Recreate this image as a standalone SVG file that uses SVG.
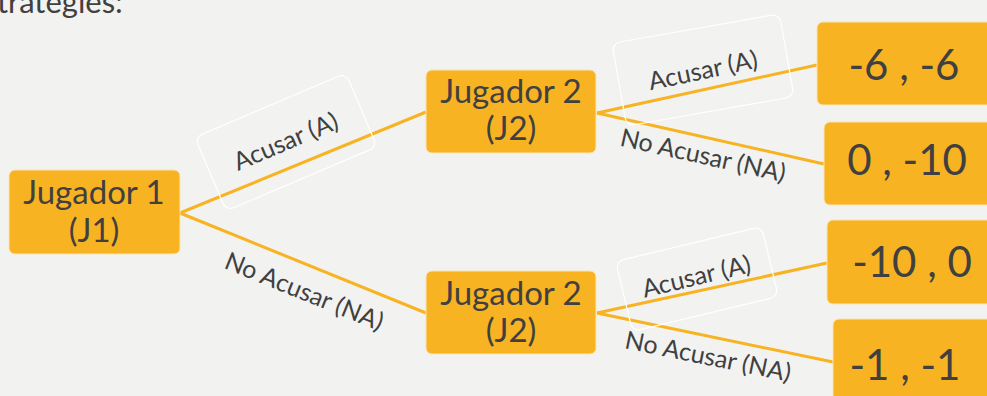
<svg xmlns="http://www.w3.org/2000/svg" width="987" height="396" viewBox="0 0 987 396">
<style>
.bg{fill:#f2f2f0}
.node rect{fill:#f7b322;stroke:#fbe3b0;stroke-width:1}
.nt{font-family:Lato,"Open Sans","Liberation Sans",sans-serif;fill:#404040;text-anchor:middle}
.jt{font-size:33px}
.pt{font-size:42px}
.lt{font-family:Lato,"Open Sans","Liberation Sans",sans-serif;fill:#404040;text-anchor:middle;font-size:25px}
.edge{stroke:#f7b322;stroke-width:3;fill:none}
.lbox{fill:none;stroke:#ffffff;stroke-width:1.2}
</style>
<rect class="bg" x="0" y="0" width="987" height="396"/>
<text x="-3" y="13" font-family="Lato,'Open Sans','Liberation Sans',sans-serif" font-size="31" fill="#404040">trategies:</text>
<g id="connectors">
<line class="edge" x1="180" y1="213" x2="426" y2="112"/>
<line class="edge" x1="180" y1="213" x2="426" y2="313"/>
<line class="edge" x1="597" y1="113" x2="817" y2="65"/>
<line class="edge" x1="597" y1="113" x2="824" y2="164"/>
<line class="edge" x1="597" y1="313" x2="827" y2="263"/>
<line class="edge" x1="597" y1="313" x2="833" y2="362"/>
</g>
<g id="labels">
<g id="lbl-j1-a" transform="translate(286,142) rotate(-23)">
<rect class="lbox" x="-82" y="-40" width="164" height="80" rx="8"/>
<text class="lt" x="0" y="8">Acusar (A)</text>
</g>
<g id="lbl-j1-na" transform="translate(304,292) rotate(22)">
<text class="lt" x="0" y="8">No Acusar (NA)</text>
</g>
<g id="lbl-j2a-a" transform="translate(703,70) rotate(-10)">
<rect class="lbox" x="-85" y="-42" width="170" height="84" rx="8"/>
<text class="lt" x="0" y="9" transform="rotate(-2)">Acusar (A)</text>
</g>
<g id="lbl-j2a-na" transform="translate(703,156) rotate(12.5)">
<text class="lt" x="0" y="8">No Acusar (NA)</text>
</g>
<g id="lbl-j2b-a" transform="translate(697,279) rotate(-13.5)">
<rect class="lbox" x="-75" y="-36" width="150" height="72" rx="8"/>
<text class="lt" x="0" y="6">Acusar (A)</text>
</g>
<g id="lbl-j2b-na" transform="translate(708,357) rotate(11.5)">
<text class="lt" x="0" y="8">No Acusar (NA)</text>
</g>
</g>
<g id="j1" class="node">
<rect x="9" y="170" width="171" height="84" rx="6"/>
<text class="nt jt" x="94" y="204">Jugador 1</text>
<text class="nt jt" x="94" y="242">(J1)</text>
</g>
<g id="j2-top" class="node">
<rect x="426" y="70" width="170" height="83" rx="6"/>
<text class="nt jt" x="511" y="103">Jugador 2</text>
<text class="nt jt" x="511" y="140">(J2)</text>
</g>
<g id="j2-bottom" class="node">
<rect x="426" y="271" width="170" height="83" rx="6"/>
<text class="nt jt" x="511" y="305">Jugador 2</text>
<text class="nt jt" x="511" y="342">(J2)</text>
</g>
<g id="p1" class="node">
<rect x="817" y="22" width="180" height="83" rx="6"/>
<text class="nt pt" x="904" y="80">-6 , -6</text>
</g>
<g id="p2" class="node">
<rect x="824" y="122" width="180" height="83" rx="6"/>
<text class="nt pt" x="907" y="175">0 , -10</text>
</g>
<g id="p3" class="node">
<rect x="827" y="220" width="180" height="84" rx="6"/>
<text class="nt pt" x="912" y="277">-10 , 0</text>
</g>
<g id="p4" class="node">
<rect x="833" y="319" width="180" height="90" rx="6"/>
<text class="nt pt" x="905" y="380">-1 , -1</text>
</g>
</svg>
